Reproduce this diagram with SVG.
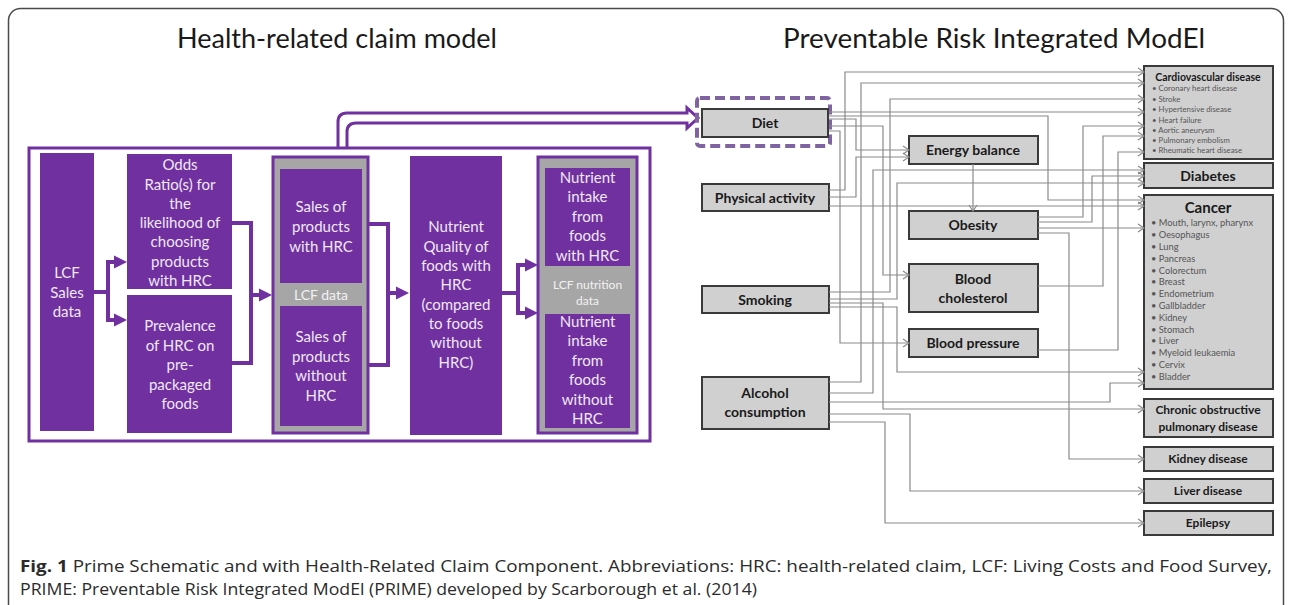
<svg xmlns="http://www.w3.org/2000/svg" width="1292" height="605" viewBox="0 0 1292 605">
<defs>
<style>
.frame{fill:#fff;stroke:#4a4a4a;stroke-width:1.5}
.title{font-family:Lato,"Open Sans",sans-serif;font-size:27px;fill:#1a1a1a}
.pbox{fill:#7030a0}
.pt{font-family:Lato,"Noto Sans",sans-serif;font-size:15px;fill:#efe8f5;text-anchor:middle}
.gcont{fill:#a6a6a6;stroke:#7030a0;stroke-width:3}
.band{font-family:Lato,sans-serif;font-size:14px;fill:#f2f2f2;text-anchor:middle}
.band2{font-family:Lato,sans-serif;font-size:12px;fill:#f2f2f2;text-anchor:middle}
.pline{fill:none;stroke:#7030a0;stroke-width:4;stroke-linejoin:miter}
.parr{fill:none;stroke:#7030a0;stroke-width:4;marker-end:url(#pa)}
.gbox{fill:#d0d0d0;stroke:#3a3a3a;stroke-width:2}
.gt{font-family:Lato,sans-serif;font-weight:bold;font-size:14px;fill:#1a1a1a;text-anchor:middle}
.gs{font-family:Lato,sans-serif;font-weight:bold;font-size:12px;fill:#1a1a1a;text-anchor:middle}
.conn{fill:none;stroke:#8a8a8a;stroke-width:1.2;marker-end:url(#ah)}
.bul{font-family:Lato,sans-serif;font-size:7.8px;fill:#555}
.bulc{font-family:Lato,sans-serif;font-size:9.3px;fill:#555}
.cap{font-family:"Open Sans",sans-serif;font-size:16.5px;fill:#2b2b2b}
</style>
<marker id="ah" markerWidth="8" markerHeight="10" refX="7" refY="5" orient="auto" markerUnits="userSpaceOnUse"><path d="M1,1 L7,5 L1,9" fill="none" stroke="#8a8a8a" stroke-width="1.2"/></marker>
<marker id="pa" markerWidth="14" markerHeight="14" refX="5" refY="7" orient="auto" markerUnits="userSpaceOnUse"><path d="M0,0.5 L13,7 L0,13.5 z" fill="#7030a0"/></marker>
</defs>

<rect class="frame" x="8.5" y="8.5" width="1275" height="630" rx="12"/>

<g id="titles">
<text class="title" x="177" y="48" textLength="320" lengthAdjust="spacingAndGlyphs">Health-related claim model</text>
<text class="title" x="783" y="48" textLength="422" lengthAdjust="spacingAndGlyphs">Preventable Risk Integrated ModEl</text>
</g>

<g id="hrc-frame">
<rect x="29" y="148" width="621" height="293" fill="none" stroke="#7030a0" stroke-width="3"/>
</g>

<g id="lcf-sales">
<rect class="pbox" x="40" y="153" width="54" height="278"/>
<text class="pt" x="67" y="278">LCF</text>
<text class="pt" x="67" y="298">Sales</text>
<text class="pt" x="67" y="317">data</text>
</g>

<g id="odds-ratio">
<rect class="pbox" x="127" y="154" width="105" height="135"/>
<text class="pt" x="180" y="170">Odds</text>
<text class="pt" x="180" y="189.5">Ratio(s) for</text>
<text class="pt" x="180" y="208.5">the</text>
<text class="pt" x="180" y="228">likelihood of</text>
<text class="pt" x="180" y="247">choosing</text>
<text class="pt" x="180" y="266.5">products</text>
<text class="pt" x="180" y="286">with HRC</text>
</g>

<g id="prevalence">
<rect class="pbox" x="127" y="295" width="105" height="138"/>
<text class="pt" x="180" y="331">Prevalence</text>
<text class="pt" x="180" y="351">of HRC on</text>
<text class="pt" x="180" y="370">pre-</text>
<text class="pt" x="180" y="390">packaged</text>
<text class="pt" x="180" y="409">foods</text>
</g>

<g id="sales-container">
<rect class="gcont" x="273" y="157" width="95" height="276"/>
<rect class="pbox" x="280" y="169" width="82" height="114"/>
<text class="pt" x="321" y="212">Sales of</text>
<text class="pt" x="321" y="232">products</text>
<text class="pt" x="321" y="252">with HRC</text>
<text class="band" x="321" y="300">LCF data</text>
<rect class="pbox" x="280" y="306" width="82" height="120"/>
<text class="pt" x="321" y="342">Sales of</text>
<text class="pt" x="321" y="362">products</text>
<text class="pt" x="321" y="381">without</text>
<text class="pt" x="321" y="401">HRC</text>
</g>

<g id="nutrient-quality">
<rect class="pbox" x="410" y="156" width="92" height="279"/>
<text class="pt" x="456" y="232">Nutrient</text>
<text class="pt" x="456" y="251.5">Quality of</text>
<text class="pt" x="456" y="271">foods with</text>
<text class="pt" x="456" y="290">HRC</text>
<text class="pt" x="456" y="309.5">(compared</text>
<text class="pt" x="456" y="329">to foods</text>
<text class="pt" x="456" y="348">without</text>
<text class="pt" x="456" y="368">HRC)</text>
</g>

<g id="nutrient-container">
<rect class="gcont" x="538" y="157" width="99" height="276"/>
<rect class="pbox" x="545" y="168" width="85" height="98"/>
<text class="pt" x="587.5" y="183">Nutrient</text>
<text class="pt" x="587.5" y="202">intake</text>
<text class="pt" x="587.5" y="222">from</text>
<text class="pt" x="587.5" y="241">foods</text>
<text class="pt" x="587.5" y="261">with HRC</text>
<text class="band2" x="587.5" y="289">LCF nutrition</text>
<text class="band2" x="587.5" y="305">data</text>
<rect class="pbox" x="545" y="314" width="85" height="114"/>
<text class="pt" x="587.5" y="327">Nutrient</text>
<text class="pt" x="587.5" y="346">intake</text>
<text class="pt" x="587.5" y="366">from</text>
<text class="pt" x="587.5" y="385">foods</text>
<text class="pt" x="587.5" y="405">without</text>
<text class="pt" x="587.5" y="424">HRC</text>
</g>

<g id="left-connectors">
<path class="parr" d="M94,292 H108 V262 H119"/>
<path class="parr" d="M108,292 V320 H119"/>
<path class="pline" d="M232,223 H251 V363 H232"/>
<path class="parr" d="M251,295 H264"/>
<path class="pline" d="M368,224 H388 V365 H368"/>
<path class="parr" d="M388,293 H401"/>
<path class="parr" d="M502,293 H518 V265 H530"/>
<path class="parr" d="M518,293 V313 H530"/>
<path d="M338,147 V122 Q338,113 347,113 H687 V108 L698,118 L687,128 V123 H356 Q347,123 347,132 V147" fill="none" stroke="#7030a0" stroke-width="3" stroke-linejoin="miter"/>
</g>

<g id="diet">
<rect x="697" y="98" width="133" height="48" rx="3" fill="none" stroke="#8064a2" stroke-width="4" stroke-dasharray="10 5"/>
<rect class="gbox" x="702" y="109" width="126" height="28"/>
<text class="gt" x="765" y="128">Diet</text>
</g>
<g id="physical-activity">
<rect class="gbox" x="702" y="184" width="127" height="27"/>
<text class="gt" x="765" y="203">Physical activity</text>
</g>
<g id="smoking">
<rect class="gbox" x="702" y="286" width="127" height="27"/>
<text class="gt" x="765" y="305">Smoking</text>
</g>
<g id="alcohol">
<rect class="gbox" x="702" y="377" width="127" height="52"/>
<text class="gt" x="765" y="398">Alcohol</text>
<text class="gt" x="765" y="417">consumption</text>
</g>
<g id="energy-balance">
<rect class="gbox" x="909" y="136" width="129" height="28"/>
<text class="gt" x="973" y="155">Energy balance</text>
</g>
<g id="obesity">
<rect class="gbox" x="909" y="211" width="129" height="28"/>
<text class="gt" x="973" y="230">Obesity</text>
</g>
<g id="blood-cholesterol">
<rect class="gbox" x="909" y="264" width="129" height="48"/>
<text class="gt" x="973" y="284">Blood</text>
<text class="gt" x="973" y="303">cholesterol</text>
</g>
<g id="blood-pressure">
<rect class="gbox" x="909" y="329" width="129" height="28"/>
<text class="gt" x="973" y="348">Blood pressure</text>
</g>

<g id="cardiovascular">
<rect class="gbox" x="1144" y="66" width="129" height="93"/>
<text class="gt" x="1208" y="80.5" style="font-size:10.5px">Cardiovascular disease</text>
<text class="bul" x="1152" y="91">• Coronary heart disease</text>
<text class="bul" x="1152" y="101.5">• Stroke</text>
<text class="bul" x="1152" y="112">• Hypertensive disease</text>
<text class="bul" x="1152" y="122.5">• Heart failure</text>
<text class="bul" x="1152" y="133">• Aortic aneurysm</text>
<text class="bul" x="1152" y="143">• Pulmonary embolism</text>
<text class="bul" x="1152" y="153">• Rheumatic heart disease</text>
</g>
<g id="diabetes">
<rect class="gbox" x="1144" y="163" width="129" height="25"/>
<text class="gt" x="1208" y="181">Diabetes</text>
</g>
<g id="cancer">
<rect class="gbox" x="1144" y="195" width="129" height="194"/>
<text class="gt" x="1208" y="212.5" style="font-size:15px">Cancer</text>
<text class="bulc" x="1151" y="226.3">• Mouth, larynx, pharynx</text>
<text class="bulc" x="1151" y="238.1">• Oesophagus</text>
<text class="bulc" x="1151" y="249.9">• Lung</text>
<text class="bulc" x="1151" y="261.7">• Pancreas</text>
<text class="bulc" x="1151" y="273.5">• Colorectum</text>
<text class="bulc" x="1151" y="285.3">• Breast</text>
<text class="bulc" x="1151" y="297.1">• Endometrium</text>
<text class="bulc" x="1151" y="308.9">• Gallbladder</text>
<text class="bulc" x="1151" y="320.7">• Kidney</text>
<text class="bulc" x="1151" y="332.5">• Stomach</text>
<text class="bulc" x="1151" y="344.3">• Liver</text>
<text class="bulc" x="1151" y="356.1">• Myeloid leukaemia</text>
<text class="bulc" x="1151" y="367.9">• Cervix</text>
<text class="bulc" x="1151" y="379.7">• Bladder</text>
</g>
<g id="copd">
<rect class="gbox" x="1144" y="399" width="129" height="38"/>
<text class="gs" x="1208" y="414">Chronic obstructive</text>
<text class="gs" x="1208" y="431">pulmonary disease</text>
</g>
<g id="kidney-disease">
<rect class="gbox" x="1144" y="447" width="129" height="24"/>
<text class="gs" x="1208" y="463">Kidney disease</text>
</g>
<g id="liver-disease">
<rect class="gbox" x="1144" y="479" width="129" height="24"/>
<text class="gs" x="1208" y="495">Liver disease</text>
</g>
<g id="epilepsy">
<rect class="gbox" x="1144" y="511" width="129" height="24"/>
<text class="gs" x="1208" y="527">Epilepsy</text>
</g>

<g id="connectors">
<path class="conn" d="M829,112 H1144"/>
<path class="conn" d="M829,116 H1048 V200 H1144"/>
<path class="conn" d="M829,119 H856 V150 H909"/>
<path class="conn" d="M829,126 H883 V275 H909"/>
<path class="conn" d="M829,131 H840 V343 H909"/>
<path class="conn" d="M829,190 H845 V72 H1144"/>
<path class="conn" d="M829,197 H856 V157 H909"/>
<path class="conn" d="M829,206 H1144"/>
<path class="conn" d="M829,292 H890 V99 H1144"/>
<path class="conn" d="M829,299 H897 V183 H1144"/>
<path class="conn" d="M829,303 H883 V409 H1144"/>
<path class="conn" d="M829,307 H897 V372 H1144"/>
<path class="conn" d="M829,382 H861 V83 H1144"/>
<path class="conn" d="M829,393 H873 V170 H1144"/>
<path class="conn" d="M829,402 H1110 V383 H1144"/>
<path class="conn" d="M829,414 H910 V491 H1144"/>
<path class="conn" d="M829,422 H885 V523 H1144"/>
<path class="conn" d="M973,164 V211"/>
<path class="conn" d="M1038,217 H1083 V126 H1144"/>
<path class="conn" d="M1038,222 H1092 V176 H1144"/>
<path class="conn" d="M1038,228 H1144"/>
<path class="conn" d="M1038,233 H1069 V459 H1144"/>
<path class="conn" d="M1038,286 H1103 V136 H1144"/>
<path class="conn" d="M1038,350 H1118 V152 H1144"/>
</g>

<g id="caption">
<text class="cap" x="20" y="572" textLength="1252" lengthAdjust="spacingAndGlyphs"><tspan font-weight="bold">Fig. 1</tspan> Prime Schematic and with Health-Related Claim Component. Abbreviations: HRC: health-related claim, LCF: Living Costs and Food Survey,</text>
<text class="cap" x="20" y="595" textLength="737" lengthAdjust="spacingAndGlyphs">PRIME: Preventable Risk Integrated ModEl (PRIME) developed by Scarborough et al. (2014)</text>
</g>
</svg>
